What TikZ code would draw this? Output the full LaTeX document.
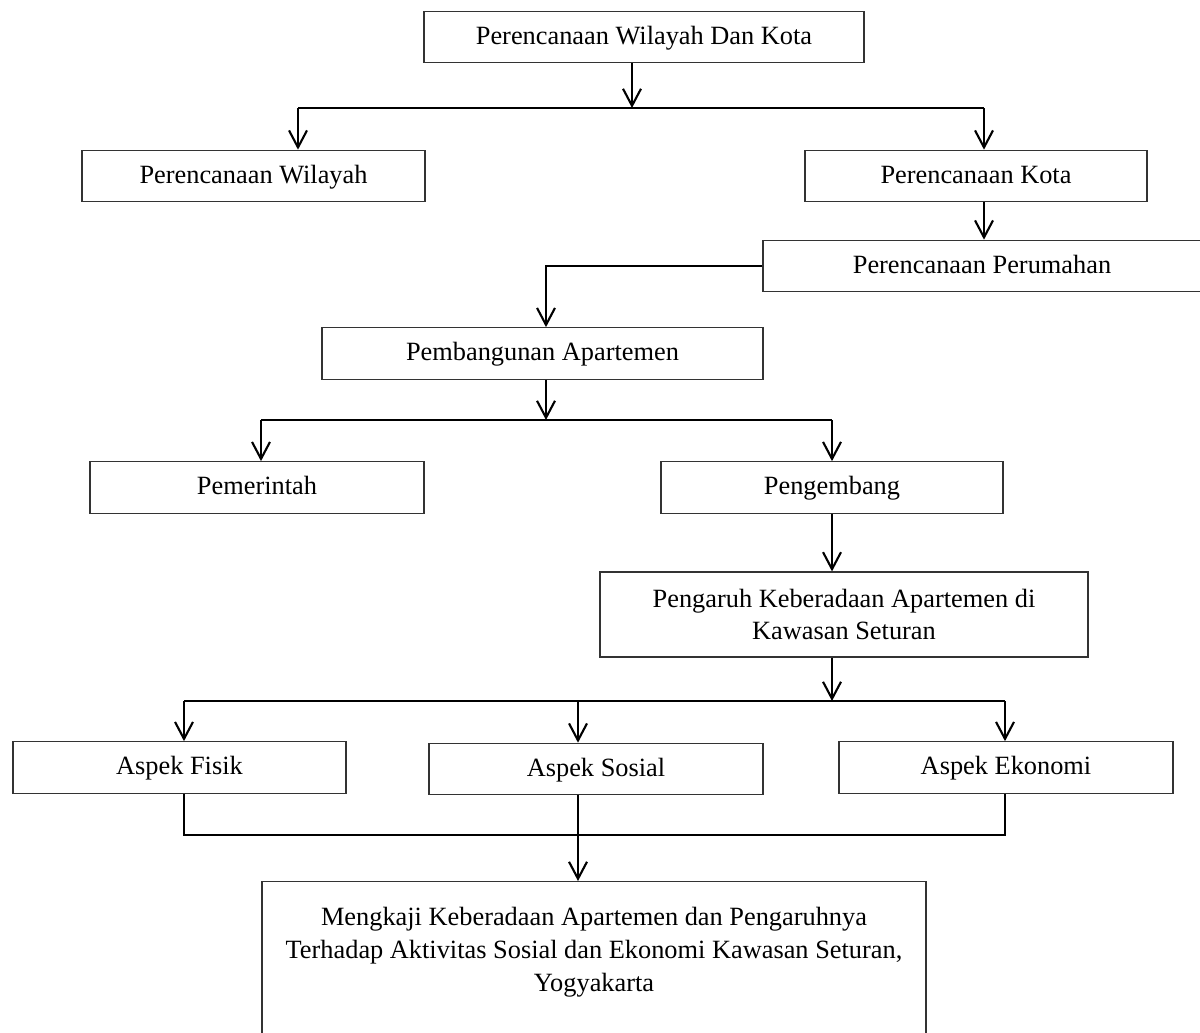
\documentclass[tikz,border=0pt]{standalone}
\usepackage{fontspec}
\setmainfont{Liberation Serif}
\usetikzlibrary{arrows.meta}

\begin{document}
\begin{tikzpicture}[x=0.02cm, y=-0.02cm,
    kotak/.style={draw=black!80, line width=0.7pt, rectangle, inner sep=0pt,
        font=\fontsize{15}{18.6}\selectfont, minimum height=1.03cm},
    satu/.style={kotak, text height=3.3mm, text depth=0.5mm},
    garis/.style={line width=1.2pt},
    panah/.style={line width=1.2pt, -{Straight Barb[length=0.34cm, width=0.36cm]}}]
        \useasboundingbox (0,0) rectangle (1200,1032);
        % kotak-kotak
        \node[satu, minimum width=8.8cm] (atas) at (644,37) {Perencanaan Wilayah Dan Kota};
        \node[satu, minimum width=6.86cm] (wilayah) at (253.5,176) {Perencanaan Wilayah};
        \node[satu, minimum width=6.84cm] (kota) at (976,176) {Perencanaan Kota};
        \node[satu, minimum width=8.76cm] (perumahan) at (982,266) {Perencanaan Perumahan};
        \node[satu, minimum width=8.82cm] (pembangunan) at (542.5,353.5) {Pembangunan Apartemen};
        \node[satu, minimum width=6.68cm] (pemerintah) at (257,487.5) {Pemerintah};
        \node[satu, minimum width=6.84cm] (pengembang) at (832,487.5) {Pengembang};
        \node[kotak, align=center, minimum width=9.76cm, minimum height=1.7cm] (pengaruh) at (844,614.5) {Pengaruh Keberadaan Apartemen di\\Kawasan Seturan};
        \node[satu, minimum width=6.66cm] (fisik) at (179.5,767.5) {Aspek Fisik};
        \node[satu, minimum width=6.68cm] (sosial) at (596,769) {Aspek Sosial};
        \node[satu, minimum width=6.68cm] (ekonomi) at (1006,767.5) {Aspek Ekonomi};
        \node[kotak, align=center, anchor=north, minimum width=13.28cm, minimum height=3.56cm] (akhir) at (594,881) {Mengkaji Keberadaan Apartemen dan Pengaruhnya\\Terhadap Aktivitas Sosial dan Ekonomi Kawasan Seturan,\\Yogyakarta\\ \strut};
        % titik simpang
        \coordinate (j1) at (632,108);
        \coordinate (j1a) at (298,108);
        \coordinate (j1b) at (984,108);
        \coordinate (j2) at (546,266);
        \coordinate (j3) at (546,420);
        \coordinate (j3a) at (261,420);
        \coordinate (j3b) at (832,420);
        \coordinate (j4) at (832,701);
        \coordinate (j4a) at (184,701);
        \coordinate (j4b) at (1005,701);
        \coordinate (j4c) at (578,701);
        \coordinate (j5) at (578,835);
        \coordinate (j5a) at (184,835);
        \coordinate (j5b) at (1005,835);
        % panah
        \draw[panah] (j1 |- atas.south) -- (j1);
        \draw[garis] (j1a) -- (j1b);
        \draw[panah] (j1a) -- (j1a |- wilayah.north);
        \draw[panah] (j1b) -- (j1b |- kota.north);
        \draw[panah] (j1b |- kota.south) -- (j1b |- perumahan.north);
        \draw[panah] (perumahan.west) -- (j2) -- (j2 |- pembangunan.north);
        \draw[panah] (j3 |- pembangunan.south) -- (j3);
        \draw[garis] (j3a) -- (j3b);
        \draw[panah] (j3a) -- (j3a |- pemerintah.north);
        \draw[panah] (j3b) -- (j3b |- pengembang.north);
        \draw[panah] (j3b |- pengembang.south) -- (j3b |- pengaruh.north);
        \draw[panah] (j4 |- pengaruh.south) -- (j4);
        \draw[garis] (j4a) -- (j4b);
        \draw[panah] (j4a) -- (j4a |- fisik.north);
        \draw[panah] (j4c) -- (j4c |- sosial.north);
        \draw[panah] (j4b) -- (j4b |- ekonomi.north);
        \draw[garis] (j5a |- fisik.south) -- (j5a) -- (j5b) -- (j5b |- ekonomi.south);
        \draw[garis] (j5 |- sosial.south) -- (j5);
        \draw[panah] (j5) -- (j5 |- akhir.north);
    \end{tikzpicture}
\end{document}
